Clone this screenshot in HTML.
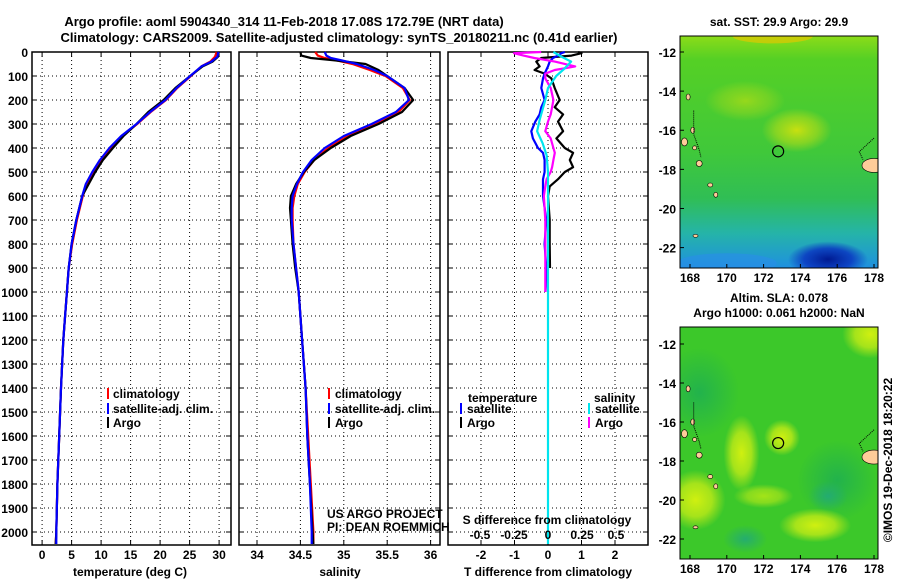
<!DOCTYPE html>
<html><head><meta charset="utf-8">
<style>
body{margin:0;background:#fff;}
svg{display:block;font-family:"Liberation Sans",Arial,sans-serif;}
.t{font-weight:bold;font-size:13px;}
.tk{font-weight:bold;font-size:12px;}
.lg{font-weight:bold;font-size:12px;}
</style></head>
<body>
<svg id="chart" width="900" height="580" viewBox="0 0 900 580">
<defs>
<linearGradient id="sstg" x1="0" y1="0" x2="0" y2="1">
<stop offset="0" stop-color="#8cdc18"/><stop offset="0.1" stop-color="#55d025"/><stop offset="0.5" stop-color="#40c83a"/><stop offset="0.7" stop-color="#30be55"/><stop offset="0.85" stop-color="#25b4a8"/><stop offset="1" stop-color="#1f90e0"/>
</linearGradient>
<radialGradient id="ylw"><stop offset="0" stop-color="#c8e010" stop-opacity="1"/><stop offset="0.6" stop-color="#b0dc18" stop-opacity="0.6"/><stop offset="1" stop-color="#b0dc18" stop-opacity="0"/></radialGradient>
<radialGradient id="dblue"><stop offset="0" stop-color="#001a90" stop-opacity="1"/><stop offset="0.6" stop-color="#0830c0" stop-opacity="0.8"/><stop offset="1" stop-color="#0830c0" stop-opacity="0"/></radialGradient>
<radialGradient id="teal"><stop offset="0" stop-color="#22aa77" stop-opacity="0.9"/><stop offset="1" stop-color="#22aa77" stop-opacity="0"/></radialGradient>
<radialGradient id="dkg"><stop offset="0" stop-color="#1fb050" stop-opacity="0.9"/><stop offset="1" stop-color="#1fb050" stop-opacity="0"/></radialGradient>
<radialGradient id="ygreen"><stop offset="0" stop-color="#d0f010" stop-opacity="1"/><stop offset="0.55" stop-color="#b8e818" stop-opacity="0.85"/><stop offset="1" stop-color="#b0e418" stop-opacity="0"/></radialGradient>
<clipPath id="m1c"><rect x="680" y="36" width="198" height="232"/></clipPath>
<clipPath id="m2c"><rect x="680" y="327" width="198" height="232"/></clipPath>
</defs>
<g id="titles">
<text class="t" x="284" y="26" text-anchor="middle">Argo profile: aoml 5904340_314 11-Feb-2018 17.08S 172.79E (NRT data)</text>
<text class="t" x="339" y="42" text-anchor="middle">Climatology: CARS2009. Satellite-adjusted climatology: synTS_20180211.nc (0.41d earlier)</text>
</g>
<g id="plots"></g>
<g id="maps"></g>
</svg>
<script>
// ---------- data ----------
var depthsT=[0,20,40,60,100,150,200,250,300,350,400,450,500,550,600,700,800,900,1000,1200,1400,1600,1800,2000,2050];
var tempArgo=[29.8,29.8,28.9,27.2,25.1,22.6,20.6,18.0,16.0,13.8,12.0,10.3,9.0,7.9,6.8,5.8,5.0,4.5,4.2,3.6,3.2,2.9,2.6,2.4,2.3];
var tempClim=[29.6,29.3,28.5,27.0,25.2,22.9,21.0,18.4,16.1,13.6,11.6,10.0,8.7,7.6,6.9,5.9,5.1,4.5,4.2,3.6,3.2,2.9,2.6,2.4,2.3];
var tempSat=[29.9,29.7,28.7,27.0,25.1,22.8,20.9,18.3,16.0,13.4,11.4,9.8,8.5,7.4,6.8,5.8,5.0,4.5,4.2,3.6,3.2,2.9,2.6,2.4,2.4];
var depthsS=[0,15,25,35,50,75,100,150,200,250,300,350,400,450,500,550,600,650,700,800,900,1000,1200,1400,1600,1800,2000,2050];
var salArgo=[34.5,34.51,34.62,34.9,35.25,35.4,35.5,35.7,35.8,35.67,35.4,35.08,34.85,34.66,34.54,34.45,34.39,34.38,34.39,34.41,34.44,34.48,34.52,34.56,34.58,34.61,34.64,34.65];
var salClim=[34.67,34.7,34.78,34.92,35.1,35.3,35.48,35.68,35.76,35.63,35.37,35.05,34.82,34.66,34.55,34.47,34.43,34.41,34.41,34.42,34.45,34.48,34.52,34.56,34.59,34.62,34.65,34.65];
var salSat=[34.78,34.8,34.85,34.98,35.15,35.35,35.5,35.7,35.75,35.6,35.32,35.0,34.78,34.63,34.53,34.46,34.41,34.4,34.4,34.42,34.45,34.48,34.52,34.56,34.58,34.61,34.63,34.63];
var depthsD=[0,5,15,25,40,60,75,90,110,150,200,230,260,290,330,360,400,420,450,480,500,530,560,600,700,800,900,1000];
var dTArgo=[0.9,1.0,0.7,-0.2,-0.35,-0.25,-0.4,-0.1,0.1,0.2,0.35,0.2,0.45,0.3,0.45,0.25,0.5,0.75,0.65,0.75,0.5,0.3,0.05,0.0,0.05,0.05,0.06,null];
var dTSat=[0.5,0.4,0.3,0.15,0.05,0.0,-0.05,-0.1,-0.15,-0.2,-0.1,-0.2,-0.25,-0.38,-0.5,-0.45,-0.3,-0.15,-0.1,-0.1,-0.1,-0.15,-0.15,-0.15,-0.05,-0.1,-0.05,0.0];
var dSArgo=[-0.05,-0.25,-0.18,-0.1,0.05,0.2,0.05,-0.02,-0.02,0.02,0.04,0.03,0.02,0.0,-0.02,0.02,0.04,0.05,0.04,0.03,0.02,-0.01,-0.02,-0.03,-0.02,-0.02,-0.02,-0.02];
var depthsSS=[0,20,40,70,100,150,200,280,330,380,430,500,2050];
var dSSat=[0.04,0.1,0.17,0.12,0.06,0.0,-0.02,-0.06,-0.08,-0.04,-0.01,0.0,0.0];
var depthTicks=[0,100,200,300,400,500,600,700,800,900,1000,1100,1200,1300,1400,1500,1600,1700,1800,1900,2000];
var tempTicks=[0,5,10,15,20,25,30];
var salTicks=[34,34.5,35,35.5,36];
var dTTicks=[-2,-1,0,1,2];
var dSTicks=[-0.5,-0.25,0,0.25,0.5];
var lonTicks=[168,170,172,174,176,178];
var latTicks=[-12,-14,-16,-18,-20,-22];
var floatLon=172.79, floatLat=-17.08;

// ---------- helpers ----------
var NS="http://www.w3.org/2000/svg";
function mk(tag,attrs,parent){var e=document.createElementNS(NS,tag);for(var k in attrs)e.setAttribute(k,attrs[k]);parent.appendChild(e);return e;}
var PT=52,PB=545;
function yD(d){return PT+d*0.24;}
function xT(t){return 42.1+t*5.9;}
function xS(s){return 257+(s-34)*86.8;}
function xdT(v){return 548+v*33.5;}
function xdS(v){return 548+v*136;}
var plots=document.getElementById('plots');

function panel(name,x0,x1,gridXs){
  var g=mk('g',{},plots);
  
  
  for(var i=0;i<depthTicks.length;i++){
    var y=yD(depthTicks[i]);
    var gl=mk('line',{x1:x0,x2:x1,y1:y,y2:y,stroke:'#000','stroke-width':1,'stroke-dasharray':'1,3'},g);
    
    
    mk('line',{x1:x0,x2:x0+5,y1:y,y2:y,stroke:'#000'},g);
    mk('line',{x1:x1-5,x2:x1,y1:y,y2:y,stroke:'#000'},g);
  }
  for(var j=0;j<gridXs.length;j++){
    var x=gridXs[j];
    var vl=mk('line',{x1:x,x2:x,y1:PT,y2:PB,stroke:'#000','stroke-width':1,'stroke-dasharray':'1,3'},g);
    
    
    mk('line',{x1:x,x2:x,y1:PB-5,y2:PB,stroke:'#000'},g);
    mk('line',{x1:x,x2:x,y1:PT,y2:PT+5,stroke:'#000'},g);
  }
  var fr=mk('rect',{x:x0,y:PT,width:x1-x0,height:PB-PT,fill:'none',stroke:'#000','stroke-width':1.5},g);
  
  
  return g;
}
function line(g,name,ds,vs,fx,color){
  var pts=[];
  for(var i=0;i<ds.length;i++){ if(vs[i]===null) continue; pts.push(fx(vs[i]).toFixed(1)+','+yD(ds[i]).toFixed(1)); }
  var p=mk('polyline',{points:pts.join(' '),fill:'none',stroke:color,'stroke-width':2.2,'stroke-linejoin':'round'},g);
  
  
}
function txt(g,name,x,y,s,cls,anchor,fill){
  var t=mk('text',{x:x,y:y,'class':cls||'tk','text-anchor':anchor||'start',fill:fill||'#000'},g);
  t.textContent=s;
  
  
  return t;
}

var yax=mk('g',{},plots);


for(var i=0;i<depthTicks.length;i++){ txt(yax,'depth-tick-label',28,yD(depthTicks[i])+5,String(depthTicks[i]),'tk','end'); }

var g1=panel('temperature-panel',32,231,tempTicks.map(xT));
line(g1,'temp-climatology',depthsT,tempClim,xT,'#ff0000');
line(g1,'temp-argo',depthsT,tempArgo,xT,'#000000');
line(g1,'temp-satellite-adj',depthsT,tempSat,xT,'#0000ff');
tempTicks.forEach(function(t){txt(g1,'temp-tick-label',xT(t),559,String(t),'tk','middle');});
txt(g1,'x-axis-title-temperature',130,576,'temperature (deg C)','tk','middle');
[['#ff0000','climatology',397],['#0000ff','satellite-adj. clim.',412],['#000','Argo',426]].forEach(function(L){
  var r=mk('rect',{x:107,y:L[2]-9,width:2,height:11,fill:L[0]},g1);
  
  
  txt(g1,'legend-entry',113,L[2]+1,L[1],'lg');
});

var g2=panel('salinity-panel',239,440,salTicks.map(xS));
line(g2,'sal-climatology',depthsS,salClim,xS,'#ff0000');
line(g2,'sal-argo',depthsS,salArgo,xS,'#000000');
line(g2,'sal-satellite-adj',depthsS,salSat,xS,'#0000ff');
salTicks.forEach(function(t){txt(g2,'sal-tick-label',xS(t),559,String(t),'tk','middle');});
txt(g2,'x-axis-title-salinity',340,576,'salinity','tk','middle');
[['#ff0000','climatology',397],['#0000ff','satellite-adj. clim.',412],['#000','Argo',426]].forEach(function(L){
  var r=mk('rect',{x:328,y:L[2]-9,width:2,height:11,fill:L[0]},g2);
  
  
  txt(g2,'legend-entry',335,L[2]+1,L[1],'lg');
});
txt(g2,'credit-project',327,518,'US ARGO PROJECT','','start').setAttribute('style','font-size:12px');
txt(g2,'credit-pi',327,531,'PI: DEAN ROEMMICH','','start').setAttribute('style','font-size:12px');

var g3=panel('difference-panel',448,648,dTTicks.map(xdT));
line(g3,'dT-argo',depthsD,dTArgo,xdT,'#000000');
line(g3,'dT-satellite',depthsD,dTSat,xdT,'#0000ff');
line(g3,'dS-argo',depthsD,dSArgo,xdS,'#ff00ff');
line(g3,'dS-satellite',depthsSS,dSSat,xdS,'#00e5ee');
dTTicks.forEach(function(t){txt(g3,'dT-tick-label',xdT(t),559,String(t),'tk','middle');});
dSTicks.forEach(function(t){txt(g3,'dS-tick-label',xdS(t),539,String(t),'tk','middle');});
txt(g3,'x-axis-title-dT',548,576,'T difference from climatology','tk','middle');
txt(g3,'x-axis-title-dS',547,524,'S difference from climatology','tk','middle');
txt(g3,'legend-title-temperature',468,402,'temperature','lg');
txt(g3,'legend-title-salinity',594,402,'salinity','lg');
[[460,'#0000ff','satellite',412],[460,'#000','Argo',426],[588,'#00e5ee','satellite',412],[588,'#ff00ff','Argo',426]].forEach(function(L){
  var r=mk('rect',{x:L[0],y:L[3]-9,width:2,height:11,fill:L[1]},g3);
  
  
  txt(g3,'legend-entry',L[0]+7,L[3]+1,L[2],'lg');
});

// ---------- maps ----------
var maps=document.getElementById('maps');
function mapFrame(name,top,bottom,lat12,lat22,clip,fillFn){
  var g=mk('g',{},maps);
  
  
  var X0=680,X1=878;
  function lx(l){return 690+(l-168)*18.4;}
  function ly(l){return lat12+(-12-l)*(lat22-lat12)/10;}
  var inner=mk('g',{'clip-path':'url(#'+clip+')'},g);
  fillFn(inner,lx,ly,top,bottom);
  [[168.15,-16.0,2,3],[168.25,-16.9,2,2],[168.5,-17.7,3,3],[169.1,-18.8,2.5,2],[169.4,-19.3,2,2.5],[168.3,-21.4,2.5,1.5],[167.9,-14.3,2,3],[167.7,-16.6,3,4],[178,-17.8,12,7]].forEach(function(c){
    var l=mk('ellipse',{cx:lx(c[0]),cy:ly(c[1]),rx:c[2],ry:c[3],fill:'#ffcc99',stroke:'#000','stroke-width':0.6},inner);
    
    
  });
  mk('path',{d:'M'+lx(168.2)+' '+ly(-15)+' L'+lx(168.2)+' '+ly(-16.2)+' L'+lx(168.5)+' '+ly(-17)+' L'+lx(168.6)+' '+ly(-17.4),fill:'none',stroke:'#000','stroke-width':1,'stroke-dasharray':'1,1'},inner);
  mk('path',{d:'M'+lx(178)+' '+ly(-16.4)+' L'+lx(177.2)+' '+ly(-17.1)+' L'+lx(177.4)+' '+ly(-17.5),fill:'none',stroke:'#000','stroke-width':1,'stroke-dasharray':'1,1'},inner);
  var c=mk('circle',{cx:lx(floatLon),cy:ly(floatLat),r:5.5,fill:'none',stroke:'#000','stroke-width':1.2},g);
  
  
  var f=mk('rect',{x:X0,y:top,width:X1-X0,height:bottom-top,fill:'none',stroke:'#000','stroke-width':1},g);
  
  
  lonTicks.forEach(function(l){mk('line',{x1:lx(l),x2:lx(l),y1:bottom,y2:bottom-4,stroke:'#000'},g);txt(g,'lon-tick-label',lx(l),bottom+14,String(l),'tk','middle');});
  latTicks.forEach(function(l){mk('line',{x1:X0,x2:X0+4,y1:ly(l),y2:ly(l),stroke:'#000'},g);txt(g,'lat-tick-label',X0-4,ly(l)+5,String(l),'tk','end');});
  return g;
}
var m1=mapFrame('sst-map',36,268,52,247.6,'m1c',function(g,lx,ly,top,bot){
  mk('rect',{x:680,y:top,width:198,height:bot-top,fill:'url(#sstg)'},g);
  mk('ellipse',{cx:lx(172.5),cy:ly(-11.2),rx:40,ry:7,fill:'#e0c800',opacity:0.7},g);
  mk('ellipse',{cx:lx(173.8),cy:ly(-16),rx:35,ry:22,fill:'url(#ylw)'},g);
  mk('ellipse',{cx:lx(171),cy:ly(-14.5),rx:40,ry:20,fill:'url(#ylw)',opacity:0.6},g);
  mk('ellipse',{cx:lx(175.5),cy:ly(-22.6),rx:40,ry:18,fill:'url(#dblue)'},g);
  mk('ellipse',{cx:lx(170),cy:ly(-22.8),rx:50,ry:10,fill:'#2a8ee8',opacity:0.6},g);
});
txt(m1,'sst-map-title',779,26,'sat. SST: 29.9 Argo: 29.9','tk','middle');
var m2=mapFrame('sla-map',327,559,344,539,'m2c',function(g,lx,ly,top,bot){
  mk('rect',{x:680,y:top,width:198,height:bot-top,fill:'#3cc82a'},g);
  mk('ellipse',{cx:lx(168.5),cy:ly(-14.5),rx:40,ry:45,fill:'url(#dkg)'},g);
  mk('ellipse',{cx:lx(176),cy:ly(-19),rx:40,ry:40,fill:'url(#dkg)'},g);
  mk('ellipse',{cx:lx(170.8),cy:ly(-17.6),rx:18,ry:38,fill:'url(#ygreen)'},g);
  mk('ellipse',{cx:lx(173),cy:ly(-16.8),rx:18,ry:18,fill:'url(#ygreen)'},g);
  mk('ellipse',{cx:lx(174.8),cy:ly(-21.3),rx:36,ry:17,fill:'url(#ygreen)'},g);
  mk('ellipse',{cx:lx(168.3),cy:ly(-20),rx:30,ry:30,fill:'url(#ygreen)'},g);
  mk('ellipse',{cx:lx(172),cy:ly(-19.8),rx:30,ry:12,fill:'url(#ygreen)',opacity:0.7},g);
  mk('ellipse',{cx:lx(177.8),cy:ly(-11.5),rx:28,ry:24,fill:'url(#ygreen)'},g);
  mk('ellipse',{cx:lx(171),cy:ly(-22),rx:22,ry:14,fill:'url(#teal)'},g);
  mk('ellipse',{cx:lx(175.5),cy:ly(-19.8),rx:20,ry:15,fill:'url(#teal)'},g);
});
txt(m2,'sla-map-title-1',779,302,'Altim. SLA: 0.078','tk','middle');
txt(m2,'sla-map-title-2',779,317,'Argo h1000: 0.061 h2000: NaN','tk','middle');
var cr=txt(maps,'timestamp-credit',0,0,'©IMOS 19-Dec-2018 18:20:22','','middle');
cr.setAttribute('transform','translate(892,460) rotate(-90)');
cr.setAttribute('style','font-size:12px');
</script>
</body></html>
